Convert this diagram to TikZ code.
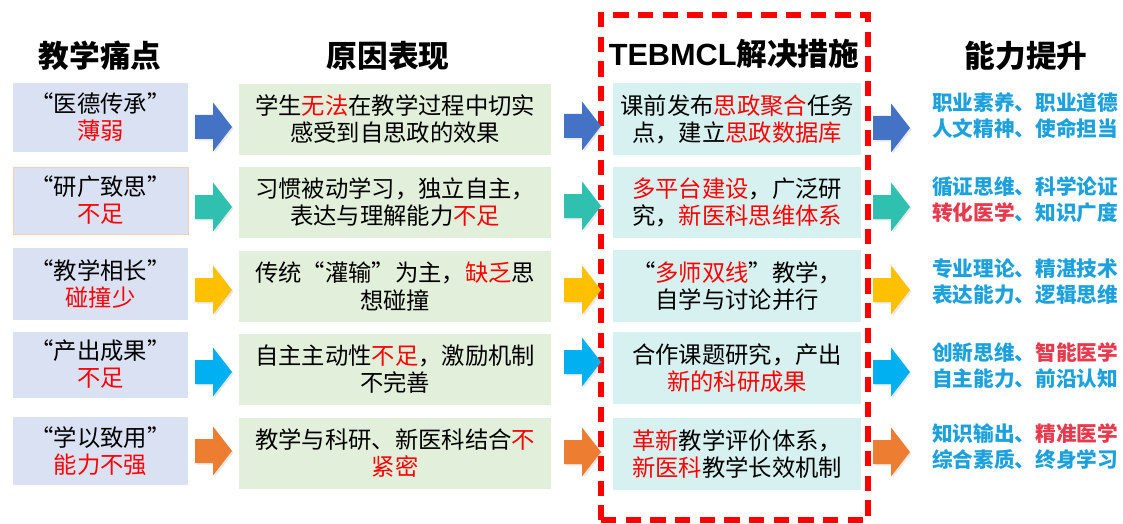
\documentclass[tikz,border=0pt]{standalone}
\usepackage{fontspec}
\setmainfont{Noto Sans CJK SC}
\newfontfamily\latinhead{Liberation Sans}
\usetikzlibrary{shadows}
\definecolor{painfill}{HTML}{D9E1F2}
\definecolor{causefill}{HTML}{E2EFDA}
\definecolor{solfill}{HTML}{D6F1EF}
\definecolor{arrA}{HTML}{4472C4}
\definecolor{arrB}{HTML}{30C0B0}
\definecolor{arrC}{HTML}{FFC000}
\definecolor{arrD}{HTML}{00B0F0}
\definecolor{arrE}{HTML}{ED7D31}
\definecolor{abilblue}{HTML}{1DA1DC}
\definecolor{abilred}{HTML}{E83A4C}
\definecolor{peach}{HTML}{F6CDB4}
\newcommand\redt[1]{\textcolor{red}{#1}}
\newcommand\redb[1]{\textcolor{abilred}{#1}}
\begin{document}
\begin{tikzpicture}[x=0.75pt,y=-0.75pt,
  head/.style={font=\fontsize{23}{26}\bfseries\selectfont, inner sep=0},
  body/.style={font=\fontsize{17.5}{20.3}\selectfont, align=center, inner sep=0},
  pain/.style={body, fill=painfill, minimum width=175*0.75pt},
  cause/.style={body, fill=causefill, minimum width=312*0.75pt},
  sol/.style={body, fill=solfill, minimum width=248*0.75pt},
  abil/.style={font=\fontsize{15.5}{19.5}\bfseries\selectfont, text=abilblue, align=center, inner sep=0},
  barrow/.pic={\fill[pic actions, drop shadow={opacity=0.18, shadow xshift=1.2pt, shadow yshift=-1.2pt}]
     (0,-12) -- (18,-12) -- (18,-24.5) -- (37,0) -- (18,24.5) -- (18,12) -- (0,12) -- cycle;}
]
\useasboundingbox[fill=white] (0,0) rectangle (1123,524);

% headers
\node[head] (h1) at (100,56) {教学痛点};
\node[head] (h2) at (388,56) {原因表现};
\node[head] (h3) at (734,54) {{\latinhead TEBMCL}解决措施};
\node[head] (h4) at (1026,56) {能力提升};

% pain points
\node[pain, minimum height=69*0.75pt] (p1) at (100.5,117.5) {“医德传承”\\\redt{薄弱}};
\node[pain, minimum height=67*0.75pt, draw=peach, line width=0.6pt] (p2) at (100.5,200.5) {“研广致思”\\\redt{不足}};
\node[pain, minimum height=72*0.75pt] (p3) at (100.5,284) {“教学相长”\\\redt{碰撞少}};
\node[pain, minimum height=66*0.75pt] (p4) at (100.5,364.5) {“产出成果”\\\redt{不足}};
\node[pain, minimum height=68*0.75pt] (p5) at (100.5,451) {“学以致用”\\\redt{能力不强}};

% causes
\node[cause, minimum height=71*0.75pt] (c1) at (395,119.5) {学生\redt{无法}在教学过程中切实\\感受到自思政的效果};
\node[cause, minimum height=71*0.75pt] (c2) at (395,202.5) {习惯被动学习，独立自主，\\表达与理解能力\redt{不足}};
\node[cause, minimum height=71*0.75pt] (c3) at (395,286.5) {传统“灌输”为主，\redt{缺乏}思\\想碰撞};
\node[cause, minimum height=71*0.75pt] (c4) at (395,369.5) {自主主动性\redt{不足}，激励机制\\不完善};
\node[cause, minimum height=71*0.75pt] (c5) at (395,453) {教学与科研、新医科结合\redt{不}\\\redt{紧密}};

% solutions
\node[sol, minimum height=72*0.75pt] (s1) at (737,119) {课前发布\redt{思政聚合}任务\\点，建立\redt{思政数据库}};
\node[sol, minimum height=71*0.75pt] (s2) at (737,202.5) {\redt{多平台建设}，广泛研\\究，\redt{新医科思维体系}};
\node[sol, minimum height=72*0.75pt] (s3) at (737,286) {“\redt{多师双线}”教学，\\自学与讨论并行};
\node[sol, minimum height=72*0.75pt] (s4) at (737,368) {合作课题研究，产出\\\redt{新的科研成果}};
\node[sol, minimum height=72*0.75pt] (s5) at (737,454) {\redt{革新}教学评价体系，\\\redt{新医科}教学长效机制};

% abilities
\node[abil] (a1) at (1025,116) {职业素养、职业道德\\人文精神、使命担当};
\node[abil] (a2) at (1025,200) {循证思维、科学论证\\\redb{转化医学}、知识广度};
\node[abil] (a3) at (1025,282) {专业理论、精湛技术\\表达能力、逻辑思维};
\node[abil] (a4) at (1025,366) {创新思维、\redb{智能医学}\\自主能力、前沿认知};
\node[abil] (a5) at (1025,447) {知识输出、\redb{精准医学}\\综合素质、终身学习};

% dashed frame
\node[draw=red, line width=5pt, dash pattern=on 11.5pt off 7pt, minimum width=267*0.75pt, minimum height=505*0.75pt, inner sep=0] (frame) at (734.5,267.5) {};

% block arrows
\pic[fill=arrA] at (195,127) {barrow};
\pic[fill=arrB] at (195,207) {barrow};
\pic[fill=arrC] at (195,290) {barrow};
\pic[fill=arrD] at (195,372) {barrow};
\pic[fill=arrE] at (195,451) {barrow};

\pic[fill=arrA] at (564,126) {barrow};
\pic[fill=arrB] at (564,206) {barrow};
\pic[fill=arrC] at (564,290) {barrow};
\pic[fill=arrD] at (564,362) {barrow};
\pic[fill=arrE] at (564,452) {barrow};

\pic[fill=arrA] at (873,128) {barrow};
\pic[fill=arrB] at (873,207) {barrow};
\pic[fill=arrC] at (873,290) {barrow};
\pic[fill=arrD] at (873,372) {barrow};
\pic[fill=arrE] at (873,452) {barrow};
\end{tikzpicture}
\end{document}
